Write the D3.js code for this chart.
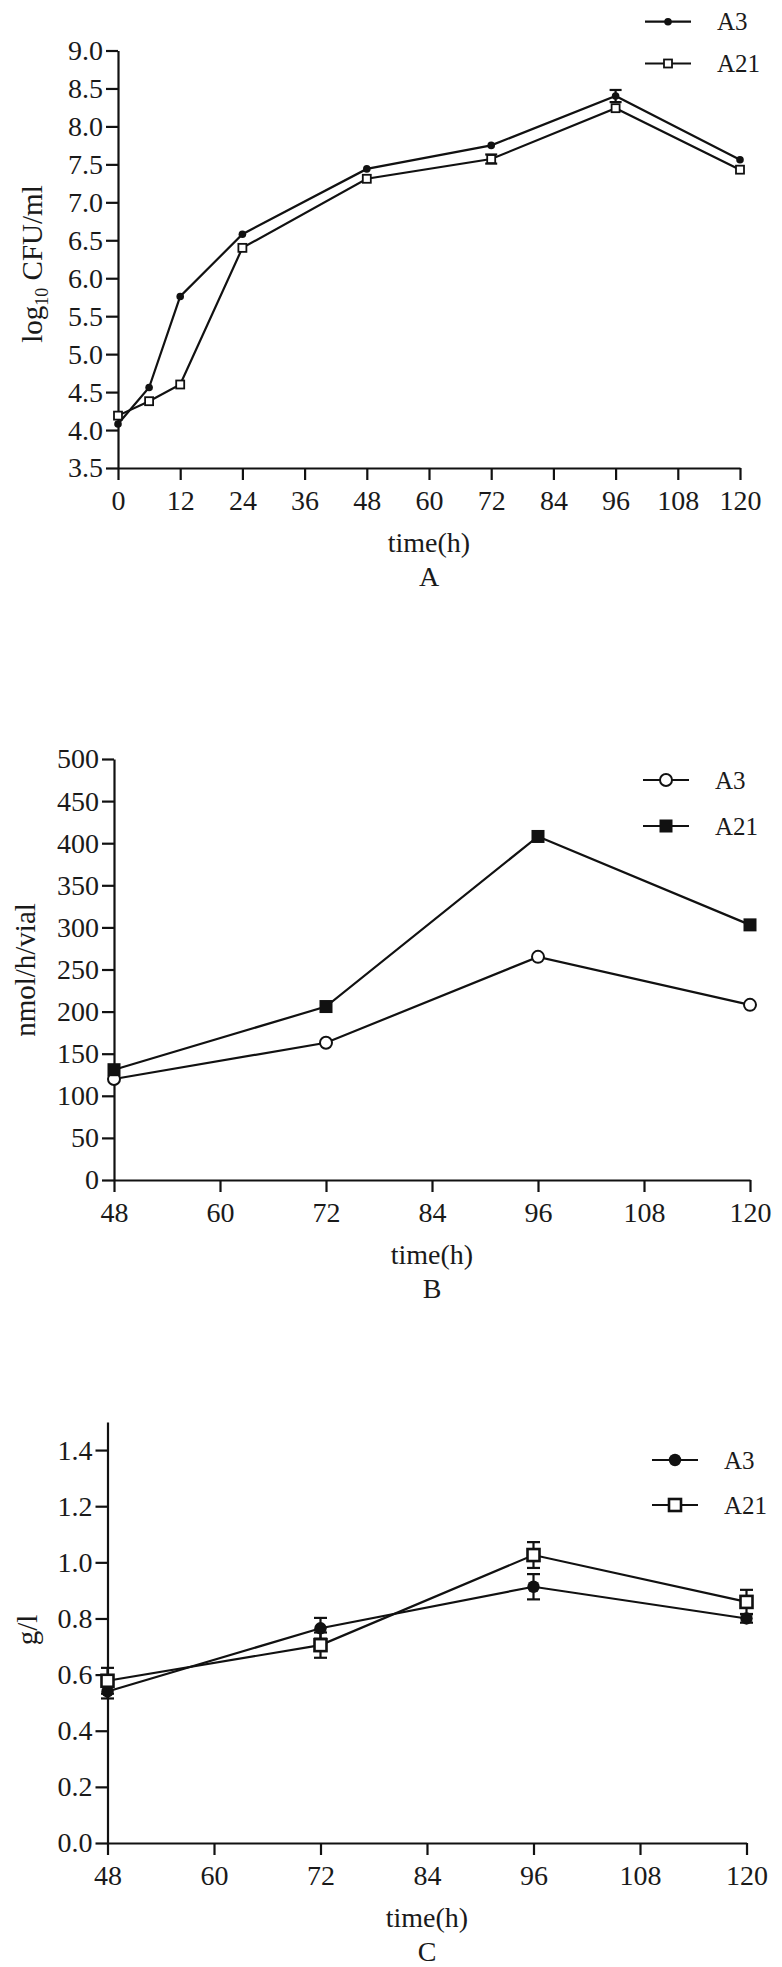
<!DOCTYPE html>
<html lang="en">
<head>
<meta charset="utf-8">
<title>Growth curves A3 / A21</title>
<script src="https://cdn.jsdelivr.net/npm/d3@7"></script>
<style>
  body { margin: 0; background: #fff; }
  text { font-family: "Liberation Serif", "Times New Roman", serif; fill: #1a1a1a; }
</style>
</head>
<body>
<script>

var width = 782;
var height = 1967;
var serif = "'Liberation Serif', 'Times New Roman', serif";

// panel A: log10 CFU/ml
var timeA = [0, 6, 12, 24, 48, 72, 96, 120];
var a3A = [4.08, 4.56, 5.76, 6.58, 7.44, 7.75, 8.40, 7.56];
var a3AErr = [0, 0, 0, 0, 0, 0, 0.08, 0];
var a21A = [4.19, 4.38, 4.60, 6.40, 7.31, 7.57, 8.24, 7.43];
var a21AErr = [0, 0, 0, 0, 0, 0.06, 0, 0];
var xTicksA = [0, 12, 24, 36, 48, 60, 72, 84, 96, 108, 120];
var yTicksA = [3.5, 4.0, 4.5, 5.0, 5.5, 6.0, 6.5, 7.0, 7.5, 8.0, 8.5, 9.0];

// panel B: nmol/h/vial
var timeB = [48, 72, 96, 120];
var a3B = [120, 163, 265, 208];
var a21B = [131, 206, 408, 303];
var xTicksB = [48, 60, 72, 84, 96, 108, 120];
var yTicksB = [0, 50, 100, 150, 200, 250, 300, 350, 400, 450, 500];

// panel C: g/l
var timeC = [48, 72, 96, 120];
var a3C = [0.54, 0.765, 0.913, 0.80];
var a3CErr = [0.025, 0.037, 0.045, 0.015];
var a21C = [0.578, 0.705, 1.026, 0.859];
var a21CErr = [0.046, 0.045, 0.046, 0.043];
var xTicksC = [48, 60, 72, 84, 96, 108, 120];
var yTicksC = [0, 0.2, 0.4, 0.6, 0.8, 1.0, 1.2, 1.4];

var svg = d3.select("body").append("svg")
            .attr("width", width)
            .attr("height", height)
            .style("font-family", serif);

function drawPanel(p) {
  var x = d3.scaleLinear().domain(p.xDomain).range([p.left, p.right]);
  var y = d3.scaleLinear().domain(p.yDomain).range([p.bottom, p.top]);
  var g = svg.append("g");

  var xAxis = g.append("g")
     .attr("transform", "translate(0," + p.bottom + ")")
     .call(d3.axisBottom(x).tickValues(p.xTicks).tickSize(12).tickSizeOuter(0).tickPadding(10)
           .tickFormat(d3.format("d")));
  var yAxis = g.append("g")
     .attr("transform", "translate(" + p.left + ",0)")
     .call(d3.axisLeft(y).tickValues(p.yTicks).tickSize(12).tickSizeOuter(0).tickPadding(3)
           .tickFormat(d3.format(p.yFormat)));

  [xAxis, yAxis].forEach(function (a) {
    a.attr("font-family", null);
    a.select(".domain").attr("stroke", "#111").attr("stroke-width", 2.2);
    a.selectAll(".tick line").attr("stroke", "#111").attr("stroke-width", 2.2);
    a.selectAll(".tick text").attr("font-size", 28).attr("fill", "#1a1a1a")
     .style("font-family", serif);
  });

  // x title and panel letter
  var cx = (p.left + p.right) / 2;
  g.append("text").attr("x", cx).attr("y", p.bottom + 74).attr("dy", "0.35em")
   .attr("text-anchor", "middle").attr("font-size", 28).style("font-family", serif).text("time(h)");
  g.append("text").attr("x", cx).attr("y", p.bottom + 108).attr("dy", "0.35em")
   .attr("text-anchor", "middle").attr("font-size", 28).style("font-family", serif).text(p.letter);

  // y title
  var yt = g.append("text")
   .attr("transform", "translate(" + p.yTitleX + "," + p.yTitleY + ") rotate(-90)")
   .attr("text-anchor", "middle").attr("dy", "0.35em").attr("font-size", 29)
   .style("font-family", serif);
  p.yTitle.forEach(function (part) {
    var t = yt.append("tspan").text(part.t);
    if (part.sub) t.attr("font-size", 18).attr("dy", 6);
    if (part.back) t.attr("dy", -6);
  });

  var line = d3.line().x(function (d) { return x(d[0]); }).y(function (d) { return y(d[1]); });

  p.series.forEach(function (s) {
    var pts = s.t.map(function (t, i) { return [t, s.v[i], s.e ? s.e[i] : 0]; });
    g.append("path").datum(pts).attr("d", line)
     .attr("fill", "none").attr("stroke", "#111").attr("stroke-width", 2.2);

    // error bars
    pts.filter(function (d) { return d[2] > 0; }).forEach(function (d) {
      var xx = x(d[0]);
      g.append("line").attr("x1", xx).attr("x2", xx)
       .attr("y1", y(d[1] - d[2])).attr("y2", y(d[1] + d[2]))
       .attr("stroke", "#111").attr("stroke-width", 2.2);
      [d[1] - d[2], d[1] + d[2]].forEach(function (v) {
        g.append("line").attr("x1", xx - p.cap).attr("x2", xx + p.cap)
         .attr("y1", y(v)).attr("y2", y(v))
         .attr("stroke", "#111").attr("stroke-width", 2.2);
      });
    });

    pts.forEach(function (d) { marker(g, s.marker, x(d[0]), y(d[1]), p); });
  });

  // legend
  p.series.forEach(function (s, i) {
    var ly = p.legendY[i];
    g.append("line").attr("x1", p.legendX).attr("x2", p.legendX + 46)
     .attr("y1", ly).attr("y2", ly).attr("stroke", "#111").attr("stroke-width", 2.2);
    marker(g, s.marker, p.legendX + 23, ly, p);
    g.append("text").attr("x", p.legendX + 72).attr("y", ly).attr("dy", "0.35em")
     .attr("font-size", 25).style("font-family", serif).text(s.name);
  });
}

function marker(g, type, cx, cy, p) {
  var r = p.markerR;
  if (type === "dot") {
    g.append("circle").attr("cx", cx).attr("cy", cy).attr("r", r).attr("fill", "#111");
  } else if (type === "ring") {
    g.append("circle").attr("cx", cx).attr("cy", cy).attr("r", r)
     .attr("fill", "#fff").attr("stroke", "#111").attr("stroke-width", 2);
  } else if (type === "box") {
    var s = p.boxSize;
    g.append("rect").attr("x", cx - s / 2).attr("y", cy - s / 2).attr("width", s).attr("height", s)
     .attr("fill", "#fff").attr("stroke", "#111").attr("stroke-width", p.boxStroke);
  } else if (type === "fill") {
    var s2 = p.boxSize;
    g.append("rect").attr("x", cx - s2 / 2).attr("y", cy - s2 / 2).attr("width", s2).attr("height", s2)
     .attr("fill", "#111");
  }
}

drawPanel({
  letter: "A",
  xDomain: [0, 120], yDomain: [3.5, 9.0],
  left: 118, right: 740, top: 50.5, bottom: 468,
  xTicks: xTicksA, yTicks: yTicksA, yFormat: ".1f",
  yTitleX: 32, yTitleY: 264,
  yTitle: [{ t: "log" }, { t: "10", sub: true }, { t: " CFU/ml", back: true }],
  markerR: 3.8, boxSize: 8, boxStroke: 1.8, cap: 6,
  legendX: 645, legendY: [21.7, 63.5],
  series: [
    { name: "A3", t: timeA, v: a3A, e: a3AErr, marker: "dot" },
    { name: "A21", t: timeA, v: a21A, e: a21AErr, marker: "box" }
  ]
});

drawPanel({
  letter: "B",
  xDomain: [48, 120], yDomain: [0, 500],
  left: 114, right: 750, top: 759, bottom: 1180,
  xTicks: xTicksB, yTicks: yTicksB, yFormat: "d",
  yTitleX: 25, yTitleY: 970,
  yTitle: [{ t: "nmol/h/vial" }],
  markerR: 6, boxSize: 13, boxStroke: 2, cap: 6,
  legendX: 643, legendY: [780, 826],
  series: [
    { name: "A3", t: timeB, v: a3B, marker: "ring" },
    { name: "A21", t: timeB, v: a21B, marker: "fill" }
  ]
});

drawPanel({
  letter: "C",
  xDomain: [48, 120], yDomain: [0, 1.5],
  left: 107.5, right: 746.5, top: 1422, bottom: 1843,
  xTicks: xTicksC, yTicks: yTicksC, yFormat: ".1f",
  yTitleX: 27, yTitleY: 1630,
  yTitle: [{ t: "g/l" }],
  markerR: 6.2, boxSize: 12, boxStroke: 2.6, cap: 6.5,
  legendX: 652, legendY: [1460, 1505],
  series: [
    { name: "A3", t: timeC, v: a3C, e: a3CErr, marker: "dot" },
    { name: "A21", t: timeC, v: a21C, e: a21CErr, marker: "box" }
  ]
});

</script>
</body>
</html>
